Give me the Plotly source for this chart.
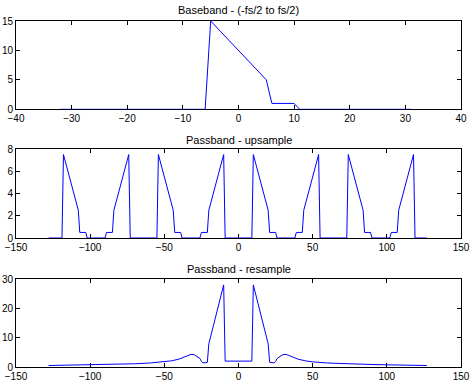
import plotly.graph_objects as go

# Baseband spectrum (-fs/2 to fs/2)
base_x = [-32, -6, -5, 5, 6, 10, 11, 31]
base_y = [0, 0, 15, 5, 1, 1, 0, 0]

# Passband - upsample
up_x = [-128, -119, -118, -108, -107, -103, -102, -90, -89, -85, -84, -74, -73,
        -55, -54, -44, -43, -39, -38, -26, -25, -21, -20, -10, -9,
        9, 10, 20, 21, 25, 26, 38, 39, 43, 44, 54, 55,
        73, 74, 84, 85, 89, 90, 102, 103, 107, 108, 118, 119, 127]
up_y = [0, 0, 7.5, 2.5, 0.5, 0.5, 0, 0, 0.5, 0.5, 2.5, 7.5, 0,
        0, 7.5, 2.5, 0.5, 0.5, 0, 0, 0.5, 0.5, 2.5, 7.5, 0,
        0, 7.5, 2.5, 0.5, 0.5, 0, 0, 0.5, 0.5, 2.5, 7.5, 0,
        0, 7.5, 2.5, 0.5, 0.5, 0, 0, 0.5, 0.5, 2.5, 7.5, 0, 0]

# Passband - resample
rs_x = [-128, -110, -100, -90, -80, -70, -60, -50, -45, -40, -36, -34, -32, -30,
        -28, -26, -25, -24, -22, -21, -20, -10, -9,
        9, 10, 20, 21, 22, 24, 25, 26, 28, 30, 32, 34, 36, 40, 45, 50,
        60, 70, 80, 90, 100, 110, 127]
rs_y = [0.6, 0.75, 0.85, 0.95, 1.05, 1.2, 1.45, 1.85, 2.2, 2.8, 3.5, 4.0, 4.4, 4.3,
        3.7, 3.0, 2.0, 1.5, 1.6, 1.7, 8.0, 28, 2.1,
        2.1, 28, 8.0, 1.7, 1.6, 1.5, 2.0, 3.0, 3.7, 4.3, 4.4, 4.0, 3.5, 2.8, 2.2, 1.85,
        1.45, 1.2, 1.05, 0.95, 0.85, 0.75, 0.6]

titles = ["Baseband - (-fs/2 to fs/2)", "Passband - upsample", "Passband - resample"]

fig = go.Figure()
FONT = dict(family="Liberation Sans, Arial, sans-serif", size=10, color="black")

H = 381.0
domains = [
    [1 - 109.3 / H, 1 - 21 / H],
    [1 - 238 / H, 1 - 149 / H],
    [1 - 367.3 / H, 1 - 279 / H],
]
title_y = [1 - 10 / H, 1 - 140 / H, 1 - 268.5 / H]

data = [(base_x, base_y), (up_x, up_y), (rs_x, rs_y)]
xranges = [[-40, 40], [-150, 150], [-150, 150]]
xdt = [10, 50, 50]
yranges = [[0, 15], [0, 8], [0, 30]]
ydt = [5, 2, 10]

layout = dict(
    width=474, height=381,
    margin=dict(l=16, r=13, t=0, b=0),
    paper_bgcolor="white", plot_bgcolor="white",
    showlegend=False, font=FONT,
    annotations=[],
)

for i in range(3):
    sfx = "" if i == 0 else str(i + 1)
    xs, ys = data[i]
    fig.add_trace(go.Scatter(x=xs, y=ys, mode="lines",
                             line=dict(color="#0000ff", width=1),
                             cliponaxis=False,
                             xaxis="x" + sfx, yaxis="y" + sfx))
    common = dict(showline=True, linecolor="black", linewidth=1, mirror="ticks",
                  ticks="inside", ticklen=4, tickcolor="black", showgrid=False,
                  zeroline=False, tickfont=FONT, layer="below traces", automargin=False)
    layout["xaxis" + sfx] = dict(domain=[0, 1], range=xranges[i], dtick=xdt[i],
                                 tick0=0, anchor="y" + sfx, **common)
    layout["yaxis" + sfx] = dict(domain=domains[i], range=yranges[i], dtick=ydt[i],
                                 tick0=0, anchor="x" + sfx, **common)
    layout["annotations"].append(dict(text=titles[i], x=0.5, y=title_y[i],
                                      xref="paper", yref="paper", showarrow=False,
                                      xanchor="center", yanchor="middle",
                                      font=dict(family="Liberation Sans, Arial, sans-serif",
                                                size=11, color="black")))

fig.update_layout(**layout)
fig.write_html("out.html", config={"displayModeBar": False},
               post_script="document.body.style.margin='0';document.body.style.padding='0';")
